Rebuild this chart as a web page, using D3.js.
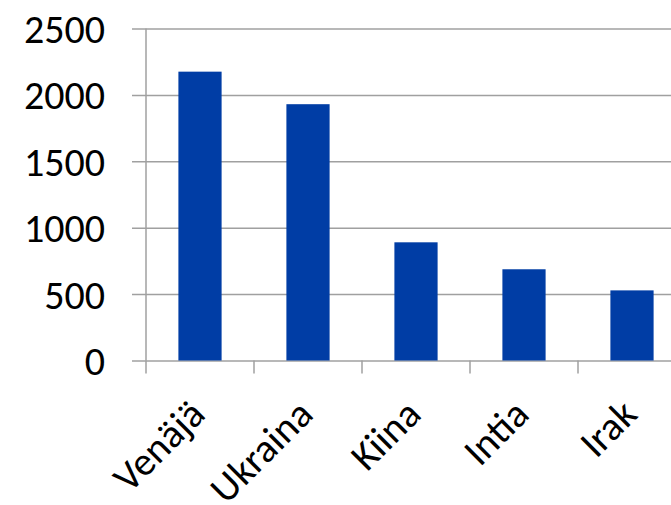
<!DOCTYPE html>
<html>
<head>
<meta charset="utf-8">
<script src="https://cdn.jsdelivr.net/npm/d3@7"></script>
<style>
  body { margin: 0; background: #fff; }
  svg text { font-family: Carlito, Calibri, "Open Sans", sans-serif; font-size: 40px; fill: #000; }
</style>
</head>
<body>
<svg id="chart" width="671" height="505"></svg>
<script>
// data
var countries = ['Venäjä', 'Ukraina', 'Kiina', 'Intia', 'Irak']
var values = [2175, 1930, 890, 687, 528]
var yTicks = [0, 500, 1000, 1500, 2000, 2500]

var svg = d3.select('#chart')

var plotLeft = 146
var plotRight = 686 // plot runs past the window edge, like the original
var plotTop = 28.5
var plotBottom = 360.5

var xPositionScale = d3.scaleBand()
  .domain(countries)
  .range([plotLeft, plotRight])
  .paddingInner(0.6)
  .paddingOuter(0.3)

var yPositionScale = d3.scaleLinear()
  .domain([0, 2500])
  .range([plotBottom, plotTop])

// gridlines + y labels
var yAxis = d3.axisLeft(yPositionScale)
  .tickValues(yTicks)
  .tickSize(-(plotRight - plotLeft) - 14)
  .tickPadding(27)
  .tickFormat(d3.format('d'))

svg.append('g')
  .attr('class', 'axis y-axis')
  .attr('transform', 'translate(' + (plotLeft - 14) + ',0)')
  .call(yAxis)
  .call(g => g.select('.domain').remove())
  .call(g => g.selectAll('line').attr('stroke', '#a0a0a0').attr('stroke-width', 1.5))
  .call(g => g.selectAll('text').attr('dy', '0.35em'))

// y axis line
svg.append('line')
  .attr('x1', plotLeft).attr('x2', plotLeft)
  .attr('y1', plotTop).attr('y2', plotBottom)
  .attr('stroke', '#a0a0a0')
  .attr('stroke-width', 1.5)

// x ticks at category boundaries
var step = xPositionScale.step()
var boundaries = d3.range(countries.length + 1).map(function(i) { return plotLeft + i * step })
svg.selectAll('.xtick')
  .data(boundaries)
  .enter()
  .append('line')
  .attr('class', 'xtick')
  .attr('x1', d => d).attr('x2', d => d)
  .attr('y1', plotBottom).attr('y2', plotBottom + 13)
  .attr('stroke', '#a0a0a0')
  .attr('stroke-width', 1.5)

// bars
svg.selectAll('.bar')
  .data(values)
  .enter()
  .append('rect')
  .attr('class', 'bar')
  .attr('x', (d, i) => xPositionScale(countries[i]))
  .attr('width', xPositionScale.bandwidth())
  .attr('y', d => yPositionScale(d))
  .attr('height', d => plotBottom - yPositionScale(d))
  .attr('fill', '#003da5')

// rotated category labels
svg.selectAll('.xlabel')
  .data(countries)
  .enter()
  .append('text')
  .attr('class', 'xlabel')
  .attr('text-anchor', 'end')
  .attr('transform', function(d) {
    var cx = xPositionScale(d) + xPositionScale.bandwidth() / 2
    return 'translate(' + (cx + 7) + ',' + (plotBottom + 56) + ') rotate(-45)'
  })
  .text(d => d)
</script>
</body>
</html>
